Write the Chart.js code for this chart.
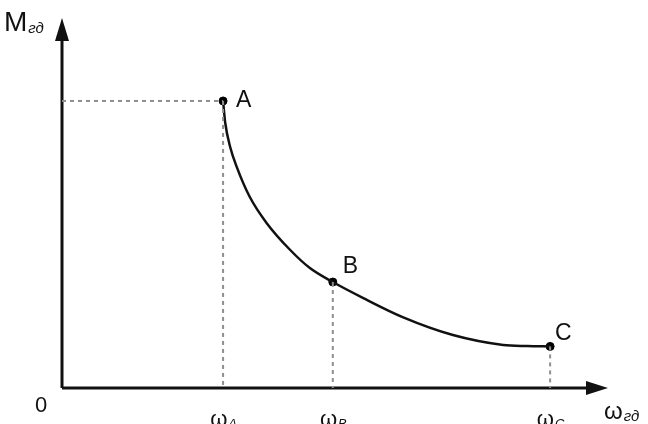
<!DOCTYPE html>
<html>
<head>
<meta charset="utf-8">
<script src="https://cdn.jsdelivr.net/npm/chart.js@4/dist/chart.umd.min.js"></script>
<style>
  html, body { margin: 0; padding: 0; background: #fff; }
  #wrap { width: 648px; height: 424px; position: relative; }
</style>
</head>
<body>
<div id="wrap"><canvas id="chart1"></canvas></div>
<script>
  // curve M(ω)
  var curveX = [29.5, 29.9, 30.8, 32.0, 34.4, 37.5, 41.8, 45.4, 49.6, 55.1, 62.5, 71.6, 80.8, 85.2, 89.4];
  var curveY = [78.0, 72.0, 65.5, 60.1, 51.9, 44.8, 37.5, 32.6, 28.8, 24.5, 19.2, 14.4, 11.7, 11.4, 11.3];

  // marked points
  var pointNames = ['A', 'B', 'C'];
  var pointX = [29.5, 49.6, 89.4];
  var pointY = [78.0, 28.8, 11.3];

  // tick labels under the axis (main letter + subscript)
  var tickMain = ['ω', 'ω', 'ω'];
  var tickSub = ['A', 'B', 'C'];

  var axisYTitle = ['M', 'гд'];
  var axisXTitle = ['ω', 'гд'];
  var originLabel = '0';

  var curveData = curveX.map(function (x, i) { return { x: x, y: curveY[i] }; });
  var markData = pointX.map(function (x, i) { return { x: x, y: pointY[i] }; });

  var guideSets = [];
  // horizontal guide from y axis to A
  guideSets.push([{ x: 0, y: pointY[0] }, { x: pointX[0], y: pointY[0] }]);
  // vertical guides from each point down to the axis
  pointX.forEach(function (x, i) {
    guideSets.push([{ x: x, y: pointY[i] }, { x: x, y: 0 }]);
  });

  var datasets = guideSets.map(function (d) {
    return {
      data: d,
      showLine: true,
      borderColor: '#8f8f8f',
      borderWidth: 2,
      borderDash: [4, 4],
      pointRadius: 0,
      fill: false
    };
  });
  datasets.push({
    data: curveData,
    showLine: true,
    borderColor: '#111',
    borderWidth: 2.5,
    cubicInterpolationMode: 'monotone',
    pointRadius: 0,
    fill: false
  });
  datasets.push({
    data: markData,
    showLine: false,
    backgroundColor: '#000',
    borderColor: '#000',
    pointRadius: 4,
    pointBorderWidth: 1,
    pointBackgroundColor: '#000',
    pointBorderColor: '#000'
  });

  function subText(ctx, main, sub, x, y, mainSize, subSize, align) {
    ctx.font = mainSize + 'px "Liberation Sans", Arial, sans-serif';
    var w1 = ctx.measureText(main).width;
    ctx.font = 'italic ' + subSize + 'px "Liberation Sans", Arial, sans-serif';
    var w2 = ctx.measureText(sub).width;
    var sx = align === 'center' ? x - (w1 + w2) / 2 : x;
    ctx.textAlign = 'left';
    ctx.textBaseline = 'alphabetic';
    ctx.font = mainSize + 'px "Liberation Sans", Arial, sans-serif';
    ctx.fillText(main, sx, y);
    ctx.font = 'italic ' + subSize + 'px "Liberation Sans", Arial, sans-serif';
    ctx.fillText(sub, sx + w1 + 1, y + 2);
  }

  var axesPlugin = {
    id: 'axesPlugin',
    beforeDatasetsDraw: function (chart) {
      var ctx = chart.ctx;
      var a = chart.chartArea;
      var ox = chart.scales.x.getPixelForValue(0);
      var oy = chart.scales.y.getPixelForValue(0);
      ctx.save();
      ctx.strokeStyle = '#111';
      ctx.fillStyle = '#111';
      ctx.lineWidth = 3;
      ctx.beginPath();
      ctx.moveTo(ox, oy);
      ctx.lineTo(a.right - 10, oy);
      ctx.moveTo(ox, oy);
      ctx.lineTo(ox, a.top + 10);
      ctx.stroke();
      // arrow heads
      ctx.beginPath();
      ctx.moveTo(a.right, oy);
      ctx.lineTo(a.right - 22, oy - 7);
      ctx.lineTo(a.right - 22, oy + 7);
      ctx.closePath();
      ctx.fill();
      ctx.beginPath();
      ctx.moveTo(ox, a.top - 2);
      ctx.lineTo(ox - 7, a.top + 21);
      ctx.lineTo(ox + 7, a.top + 21);
      ctx.closePath();
      ctx.fill();
      ctx.restore();
    },
    afterDatasetsDraw: function (chart) {
      var ctx = chart.ctx;
      var sx = chart.scales.x, sy = chart.scales.y;
      var a = chart.chartArea;
      var oy = sy.getPixelForValue(0);
      var ox = sx.getPixelForValue(0);
      var nameOffsets = [[13, 6], [10, -9], [5, -6]];
      ctx.save();
      ctx.fillStyle = '#111';
      // point names
      ctx.font = '23px "Liberation Sans", Arial, sans-serif';
      ctx.textAlign = 'left';
      ctx.textBaseline = 'alphabetic';
      pointNames.forEach(function (n, i) {
        var px = sx.getPixelForValue(pointX[i]);
        var py = sy.getPixelForValue(pointY[i]);
        ctx.fillText(n, px + nameOffsets[i][0], py + nameOffsets[i][1]);
      });
      // tick labels under the axis
      pointX.forEach(function (x, i) {
        subText(ctx, tickMain[i], tickSub[i], sx.getPixelForValue(x), oy + 38, 22, 13, 'center');
      });
      // origin
      ctx.font = '22px "Liberation Sans", Arial, sans-serif';
      ctx.textAlign = 'left';
      ctx.fillText(originLabel, ox - 27, oy + 24);
      // axis titles
      subText(ctx, axisYTitle[0], axisYTitle[1], 4, 31, 28, 15, 'left');
      subText(ctx, axisXTitle[0], axisXTitle[1], a.right - 4, oy + 31, 24, 15, 'left');
      ctx.restore();
    }
  };

  new Chart(document.getElementById('chart1'), {
    type: 'scatter',
    data: { datasets: datasets },
    options: {
      responsive: true,
      maintainAspectRatio: false,
      animation: false,
      layout: { padding: { left: 62, right: 40, top: 20, bottom: 36 } },
      plugins: {
        legend: { display: false },
        tooltip: { enabled: false }
      },
      scales: {
        x: { type: 'linear', min: 0, max: 100, display: false },
        y: { type: 'linear', min: 0, max: 100, display: false }
      }
    },
    plugins: [axesPlugin]
  });
</script>
</body>
</html>
